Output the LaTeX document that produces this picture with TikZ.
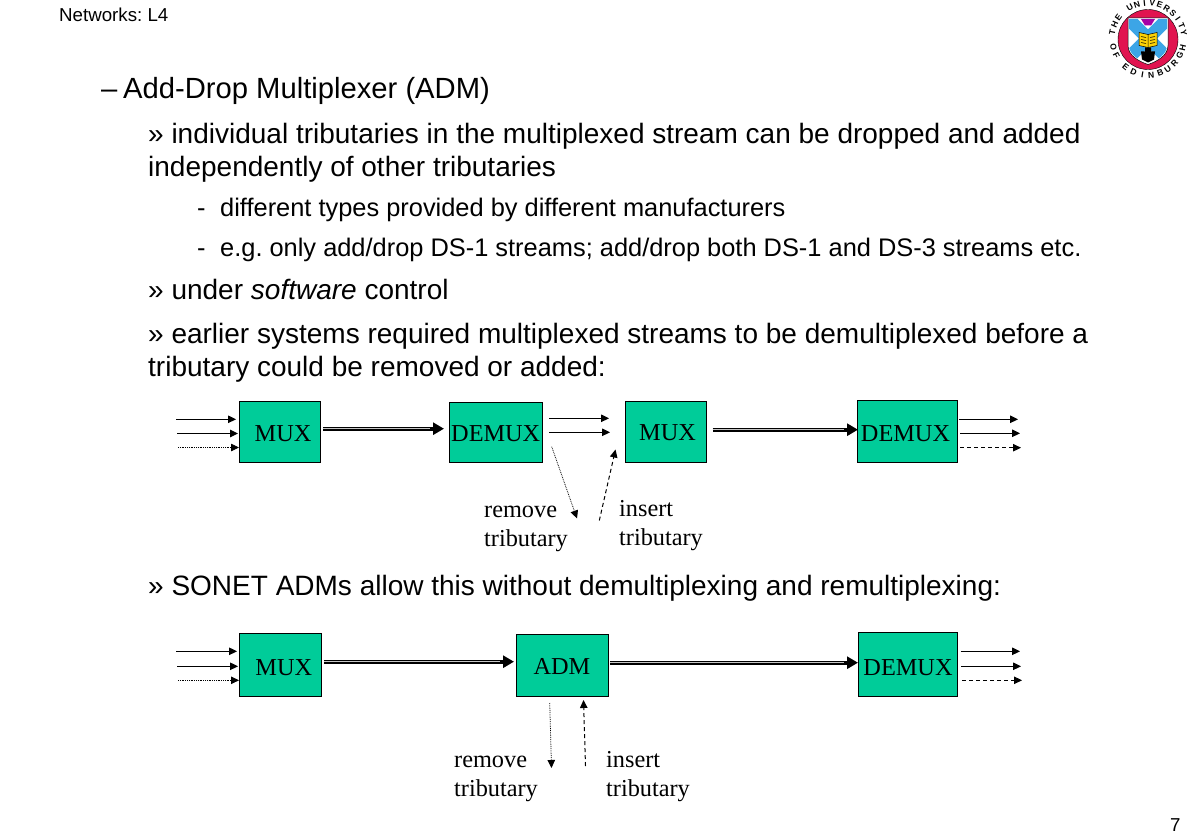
\documentclass[tikz,border=0pt]{standalone}
\usepackage{fontspec}
\setmainfont{Liberation Serif}
\newfontfamily\sansf{Liberation Sans}
\usetikzlibrary{arrows.meta}
\definecolor{boxgreen}{RGB}{0,204,153}
\definecolor{sealred}{RGB}{225,20,80}
\definecolor{sealblue}{RGB}{60,165,230}
\newcommand{\boxtext}[3]{\hspace*{#1}\raisebox{#2}{#3}}
\frenchspacing
\tikzset{
  x=1pt,y=-1pt,
  txtT/.style={anchor=base west,inner sep=0pt,font=\sansf\fontsize{29.2}{29.2}\selectfont},
  txtA/.style={anchor=base west,inner sep=0pt,font=\sansf\fontsize{28}{28}\selectfont},
  txtB/.style={anchor=base west,inner sep=0pt,font=\sansf\fontsize{25.4}{25.4}\selectfont},
  small/.style={anchor=base west,inner sep=0pt,font=\sansf\fontsize{18.7}{18.7}\selectfont},
  lab/.style={anchor=base west,inner sep=0pt,font=\fontsize{24.3}{24.3}\selectfont},
  cbox/.style={draw=black,line width=1pt,fill=boxgreen,inner sep=0pt,text height=16pt,text depth=0pt,font=\fontsize{24.3}{24.3}\selectfont},
  arr/.style={line width=1.2pt,-{Triangle[length=8pt,width=7.5pt]}},
  dotarr/.style={line width=.8pt,densely dotted,-{Triangle[length=8pt,width=7.5pt]}},
  dasharr/.style={line width=1pt,dash pattern=on 4pt off 3pt,-{Triangle[length=8pt,width=7.5pt]}},
  fat/.style={draw=black,line width=3.8pt,-{Triangle[length=11pt,width=12pt]}},
  fatcore/.style={draw=gray!45,line width=1.3pt},
  sealch/.style={inner sep=0pt,font=\sansf\bfseries\fontsize{8.5}{8.5}\selectfont},
}
\begin{document}
\begin{tikzpicture}
\useasboundingbox (0,0) rectangle (1188,840);
\fill[white] (0,0) rectangle (1188,840);
\node[small] (hdr) at (59,21.5) {Networks: L4};
\node[small] (pg) at (1170,831) {7};
\node[txtT] (t0) at (101,99) {–};
\node[txtT] (t1) at (123,99) {Add-Drop Multiplexer (ADM)};
\node[txtA] (t2) at (148,143) {» individual tributaries in the multiplexed stream can be dropped and added};
\node[txtA] (t3) at (148,176) {independently of other tributaries};
\node[txtB] (t4a) at (197,216) {-};
\node[txtB] (t4) at (220,216) {different types provided by different manufacturers};
\node[txtB] (t5a) at (197,256) {-};
\node[txtB] (t5) at (220,256) {e.g. only add/drop DS-1 streams; add/drop both DS-1 and DS-3 streams etc.};
\node[txtA] (t6) at (148,299) {» under \textit{software} control};
\node[txtA] (t7) at (148,343) {» earlier systems required multiplexed streams to be demultiplexed before a};
\node[txtA] (t8) at (148,376) {tributary could be removed or added:};
\node[txtA] (t9) at (148,595) {» SONET ADMs allow this without demultiplexing and remultiplexing:};

% Row 1
\node[cbox,minimum width=80.5pt,minimum height=60.5pt] (m1) at (279.75,432) {\boxtext{6.5pt}{-1.7pt}{MUX}};
\node[cbox,minimum width=92.5pt,minimum height=59.5pt] (d1) at (495.75,432.3) {\boxtext{0pt}{-1.4pt}{DEMUX}};
\node[cbox,minimum width=81.5pt,minimum height=60.5pt] (m2) at (666,431.8) {\boxtext{3pt}{-0.9pt}{MUX}};
\node[cbox,minimum width=100pt,minimum height=61.5pt] (d2) at (907,431.3) {\boxtext{-3pt}{-1.7pt}{DEMUX}};
% Row 2
\node[cbox,minimum width=81.7pt,minimum height=63pt] (m3) at (280.8,664.8) {\boxtext{6pt}{-2.2pt}{MUX}};
\node[cbox,minimum width=92pt,minimum height=62.5pt] (a1) at (562,665.3) {\boxtext{0pt}{-0.7pt}{ADM}};
\node[cbox,minimum width=99.4pt,minimum height=64pt] (d3) at (908,664.3) {\boxtext{0pt}{-3pt}{DEMUX}};

\node[lab] (r1a) at (484,517) {remove};
\node[lab] (r1b) at (484,546) {tributary};
\node[lab] (i1a) at (619,516) {insert};
\node[lab] (i1b) at (619,545) {tributary};
\node[lab] (r2a) at (454,767) {remove};
\node[lab] (r2b) at (454,796) {tributary};
\node[lab] (i2a) at (606,767) {insert};
\node[lab] (i2b) at (606,796) {tributary};

% free ends
\foreach \n/\x/\y in {a/176/419.3,b/236/419.3,c/177/433.5,d/238/433.5,e/178/447.5,f/239/447.5,
  g/549.3/418.3,h/609/418.3,i/549.3/432.3,j/610/432.3,
  k/551.7/446.7,l/577/518.5,n/599.3/520.5,o/615.5/449.5,
  p/959/419.3,q/1018/419.3,r/960/433.3,s/1020/433.3,t/960/447.7,u/1021/447.7,
  A/176/651.3,B/237/651.3,C/177.3/666.3,D/238/666.3,E/178/680.3,F/239/680.3,
  G/960.7/651.3,H/1020/651.3,I/961/666.3,J/1021/666.3,K/962/680.3,L/1022/680.3,
  N/549.7/703,O/551.5/768,P/585.5/766,Q/583.5/700,
  R/323/428.7,S/444/428.7,T/712.7/429.7,U/858/429.7,V/324/661.7,W/514/661.7,X/610/662.7,Y/858/662.7}
  {\coordinate (\n) at (\x,\y);}

\draw[arr] (a)--(b); \draw[arr] (c)--(d); \draw[dotarr] (e)--(f);
\draw[arr] (g)--(h); \draw[arr] (i)--(j);
\draw[dotarr] (k)--(l); \draw[dasharr] (n)--(o);
\draw[arr] (p)--(q); \draw[arr] (r)--(s); \draw[dasharr] (t)--(u);
\draw[arr] (A)--(B); \draw[arr] (C)--(D); \draw[dotarr] (E)--(F);
\draw[arr] (G)--(H); \draw[arr] (I)--(J); \draw[dasharr] (K)--(L);
\draw[dotarr] (N)--(O); \draw[dasharr] (P)--(Q);
\foreach \s/\e in {R/S,T/U,V/W,X/Y}{
  \draw[fat] (\s)--(\e);
  \draw[fatcore] (\s) -- ([xshift=-14pt]\e);
}

% Seal
\begin{scope}[shift={(1148,39.5)}]
  \fill[sealred] (0,0) circle (30);
  \draw[black,line width=.4pt] (0,0) circle (30);
  % shield
  \path[fill=white,draw=black,line width=.5pt] (-20,-21.5) -- (20,-21.5) -- (20,6) .. controls (20,16) and (9,22) .. (0,25) .. controls (-9,22) and (-20,16) .. (-20,6) -- cycle;
  \begin{scope}
    \clip (-19,-20.5) -- (19,-20.5) -- (19,6) .. controls (19,15) and (9,21) .. (0,24) .. controls (-9,21) and (-19,15) .. (-19,6) -- cycle;
    \draw[sealblue,line width=13pt] (-22,-23) -- (22,21) (22,-23) -- (-22,21);
  \end{scope}
  \fill[violet!70!magenta] (-7,-20.5) -- (7,-20.5) -- (3,-14) -- (-3,-14) -- cycle;
  \fill[black] (-6,20) -- (-7,12) -- (-3,12) -- (-3,8) -- (3,8) -- (3,12) -- (7,12) -- (6,20) -- (0,23) -- cycle;
  \fill[yellow!70!orange,draw=black,line width=.5pt] (-9,-7) -- (0,-5) -- (9,-7) -- (9,6) -- (0,8) -- (-9,6) -- cycle;
  \draw[black,line width=.5pt] (0,-5) -- (0,8)
     (-7,-3) -- (-2,-2) (-7,0) -- (-2,1) (-7,3) -- (-2,4)
     (7,-3) -- (2,-2) (7,0) -- (2,1) (7,3) -- (2,4);
  \foreach \ch [count=\i from 0] in {T,H,E,,U,N,I,V,E,R,S,I,T,Y}{
    \pgfmathsetmacro{\ang}{168-\i*12.1}
    \node[sealch,rotate=\ang-90] at ({36.5*cos(\ang)},{-36.5*sin(\ang)}) {\ch};
  }
  \foreach \ang/\ch in {193/O,207/F,231/E,246/D,261/I,275/N,290/B,304/U,318/R,333/G,347/H}{
    \node[sealch,rotate=\ang+90] at ({35.5*cos(\ang)},{-35.5*sin(\ang)}) {\ch};
  }
\end{scope}
\end{tikzpicture}
\end{document}
